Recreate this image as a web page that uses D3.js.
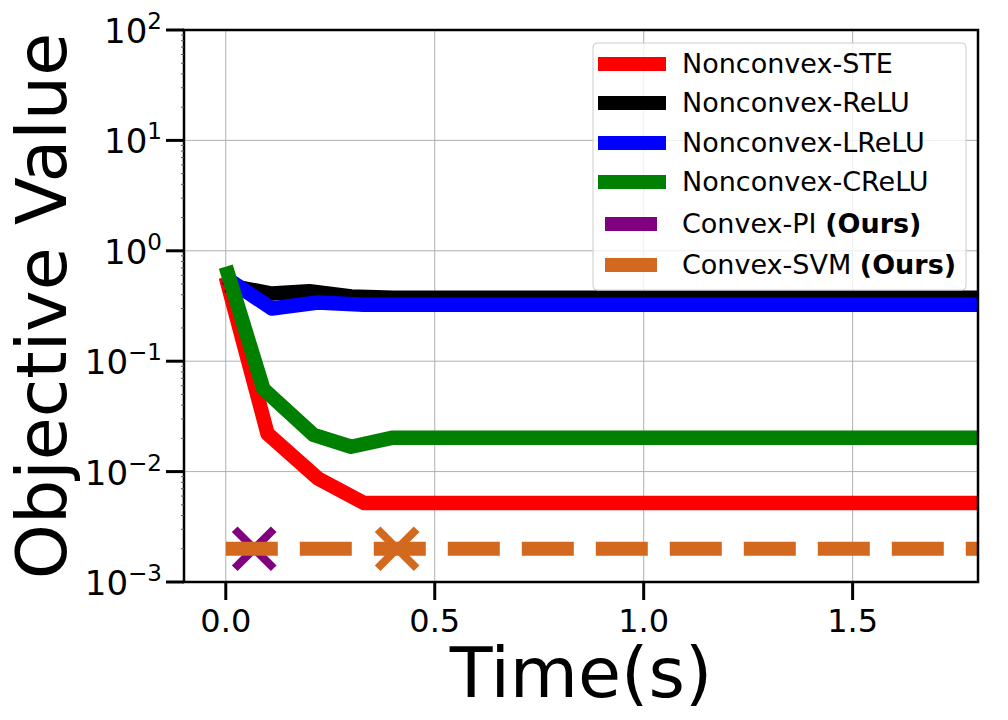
<!DOCTYPE html>
<html>
<head>
<meta charset="utf-8">
<script src="https://cdn.jsdelivr.net/npm/d3@7"></script>
<style>
  body { margin: 0; background: #fff; }
  text { font-family: "DejaVu Sans", sans-serif; }
</style>
</head>
<body>
<div class="canvas"></div>
<script>
// values
const steTime = [0, 0.10, 0.22, 0.33, 0.45, 2.0];
const steValue = [0.58, 0.022, 0.0087, 0.0052, 0.0052, 0.0052];
const reluTime = [0, 0.11, 0.20, 0.30, 0.40, 2.0];
const reluValue = [0.49, 0.41, 0.43, 0.385, 0.375, 0.375];
const lreluTime = [0, 0.11, 0.22, 0.33, 2.0];
const lreluValue = [0.57, 0.30, 0.34, 0.325, 0.325];
const creluTime = [0, 0.09, 0.21, 0.30, 0.40, 2.0];
const creluValue = [0.72, 0.056, 0.0215, 0.0168, 0.0203, 0.0203];
const piTime = [0.068];
const piValue = [0.002];
const svmTime = [0, 0.41, 2.0];
const svmValue = [0.002, 0.002, 0.002];
const svmMarkTime = [0.41];

const legendNames = ["Nonconvex-STE", "Nonconvex-ReLU", "Nonconvex-LReLU", "Nonconvex-CReLU", "Convex-PI", "Convex-SVM"];
const legendColors = ["#ff0000", "#000000", "#0000ff", "#008000", "#800080", "#d2691e"];
const xTicks = [0, 0.5, 1.0, 1.5];
const yExponents = [-3, -2, -1, 0, 1, 2];

const W = 1008, H = 720;
const pLeft = 184, pRight = 978, pTop = 30, pBottom = 582;

const svg = d3.select('.canvas')
  .append('svg')
  .attr('width', W)
  .attr('height', H)

const x = d3.scaleLinear().domain([-0.1, 1.8]).range([pLeft, pRight]);
const y = d3.scaleLog().domain([1e-3, 1e2]).range([pBottom, pTop]);

// grid
svg.append('g').selectAll('line').data(xTicks).join('line')
  .attr('x1', d => x(d)).attr('x2', d => x(d))
  .attr('y1', pTop).attr('y2', pBottom)
  .attr('stroke', '#b0b0b0').attr('stroke-width', 1);
svg.append('g').selectAll('line').data(yExponents).join('line')
  .attr('x1', pLeft).attr('x2', pRight)
  .attr('y1', d => y(Math.pow(10, d))).attr('y2', d => y(Math.pow(10, d)))
  .attr('stroke', '#b0b0b0').attr('stroke-width', 1);

svg.append('clipPath').attr('id', 'clip')
  .append('rect').attr('x', pLeft).attr('y', pTop)
  .attr('width', pRight - pLeft).attr('height', pBottom - pTop);

const plot = svg.append('g').attr('clip-path', 'url(#clip)');

const line = d3.line().x(d => x(d[0])).y(d => y(d[1]));
const zipped = (t, v) => t.map((d, i) => [d, v[i]]);

const series = [
  [steTime, steValue, legendColors[0]],
  [reluTime, reluValue, legendColors[1]],
  [lreluTime, lreluValue, legendColors[2]],
  [creluTime, creluValue, legendColors[3]],
];
series.forEach(s => {
  plot.append('path')
    .attr('d', line(zipped(s[0], s[1])))
    .attr('fill', 'none')
    .attr('stroke', s[2])
    .attr('stroke-width', 14.5)
    .attr('stroke-linejoin', 'round');
});

const drawX = (t, v, color) => {
  const h = 19.5;
  const g = plot.append('g')
    .attr('transform', `translate(${x(t)},${y(v)})`);
  g.append('path')
    .attr('d', `M${-h},${-h}L${h},${h}M${-h},${h}L${h},${-h}`)
    .attr('stroke', color).attr('stroke-width', 8).attr('fill', 'none');
};

// Convex-PI: single point
drawX(piTime[0], piValue[0], legendColors[4]);

// Convex-SVM dashed
plot.append('path')
  .attr('d', line(zipped(svmTime, svmValue)))
  .attr('fill', 'none')
  .attr('stroke', legendColors[5])
  .attr('stroke-width', 14)
  .attr('stroke-dasharray', '52,22');
drawX(svmMarkTime[0], svmValue[0], legendColors[5]);

// frame
svg.append('rect')
  .attr('x', pLeft).attr('y', pTop)
  .attr('width', pRight - pLeft).attr('height', pBottom - pTop)
  .attr('fill', 'none').attr('stroke', '#000').attr('stroke-width', 2.5);

// x ticks
const xt = svg.append('g');
xt.selectAll('line').data(xTicks).join('line')
  .attr('x1', d => x(d)).attr('x2', d => x(d))
  .attr('y1', pBottom).attr('y2', pBottom + 18)
  .attr('stroke', '#000').attr('stroke-width', 3);
xt.selectAll('text').data(xTicks).join('text')
  .attr('x', d => x(d)).attr('y', 632)
  .attr('text-anchor', 'middle')
  .attr('font-size', 32)
  .text(d => d.toFixed(1));

// y ticks
const yt = svg.append('g');
yt.selectAll('line.major').data(yExponents).join('line')
  .attr('class', 'major')
  .attr('x1', pLeft - 18).attr('x2', pLeft)
  .attr('y1', d => y(Math.pow(10, d))).attr('y2', d => y(Math.pow(10, d)))
  .attr('stroke', '#000').attr('stroke-width', 3);
const minor = [];
yExponents.slice(0, -1).forEach(e => {
  for (let k = 2; k < 10; k++) minor.push(k * Math.pow(10, e));
});
yt.selectAll('line.minor').data(minor).join('line')
  .attr('class', 'minor')
  .attr('x1', pLeft - 3).attr('x2', pLeft)
  .attr('y1', d => y(d)).attr('y2', d => y(d))
  .attr('stroke', '#555').attr('stroke-width', 1);
const ylab = yt.selectAll('text').data(yExponents).join('text')
  .attr('x', 162).attr('y', d => y(Math.pow(10, d)) + 13)
  .attr('text-anchor', 'end')
  .attr('font-size', 34);
ylab.append('tspan').text('10');
ylab.append('tspan').attr('dy', -14).attr('font-size', 23)
  .text(d => d < 0 ? '\u2212' + (-d) : String(d));

// axis labels
svg.append('text')
  .attr('x', (pLeft + pRight) / 2).attr('y', 697)
  .attr('text-anchor', 'middle').attr('font-size', 70)
  .text('Time(s)');
svg.append('text')
  .attr('transform', `translate(66,${(pTop + pBottom) / 2}) rotate(-90)`)
  .attr('text-anchor', 'middle').attr('font-size', 70)
  .text('Objective Value');

// legend
const lg = svg.append('g');
lg.append('rect')
  .attr('x', 593).attr('y', 43).attr('width', 373).attr('height', 247)
  .attr('rx', 4)
  .attr('fill', '#fff').attr('fill-opacity', 0.8)
  .attr('stroke', '#cccccc').attr('stroke-width', 1);
const rowY = [64, 103, 143, 182, 224, 265];
legendNames.forEach((name, i) => {
  const dashed = i >= 4;
  lg.append('line')
    .attr('x1', dashed ? 605 : 598).attr('x2', dashed ? 657 : 666)
    .attr('y1', rowY[i]).attr('y2', rowY[i])
    .attr('stroke', legendColors[i]).attr('stroke-width', 14);
  const t = lg.append('text')
    .attr('x', 682).attr('y', rowY[i] + 9)
    .attr('font-size', 27);
  t.append('tspan').text(name);
  if (dashed) {
    t.append('tspan').text(' ');
    t.append('tspan').attr('font-weight', 'bold').text('(Ours)');
  }
});
</script>
</body>
</html>
